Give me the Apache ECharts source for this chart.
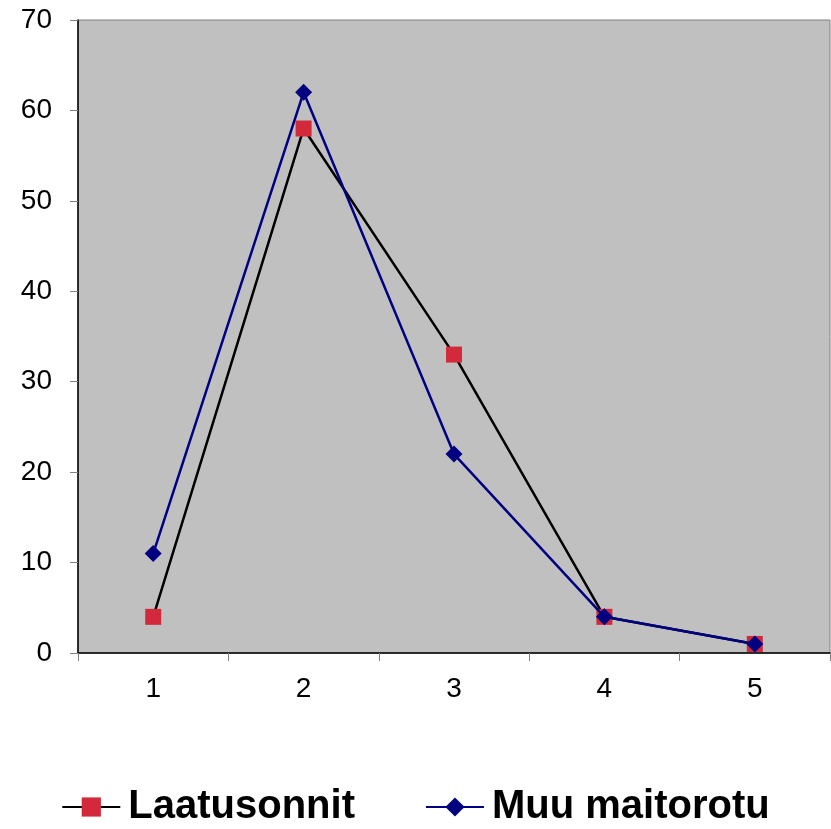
<!DOCTYPE html>
<html><head><meta charset="utf-8">
<script src="https://cdn.jsdelivr.net/npm/echarts@6/dist/echarts.min.js"></script>
<style>html,body{margin:0;padding:0;background:#fff}#c{width:831px;height:829px}</style>
</head><body><div id="c"></div>
<script>
const categories = ['1','2','3','4','5'];
const laatusonnit = [4, 58, 33, 4, 1];
const muuMaitorotu = [11, 62, 22, 4, 1];
const yTicks = {min:0, max:70, interval:10};

const chart = echarts.init(document.getElementById('c'), null, {renderer:'canvas'});
chart.setOption({
  animation:false,
  backgroundColor:'#fff',
  grid:{left:78, right:1, top:20, bottom:176, show:true, backgroundColor:'#c0c0c0', borderColor:'#808080', borderWidth:1},
  legend:{
    top:782, left:'center', itemGap:70, itemWidth:58, itemHeight:24,
    textStyle:{fontFamily:'Liberation Sans, Arial', fontWeight:'bold', fontSize:40, color:'#000', padding:[0,0,0,3]},
    data:['Laatusonnit','Muu maitorotu']
  },
  xAxis:{
    type:'category', data:categories, boundaryGap:true,
    axisLine:{lineStyle:{color:'#000', width:1.5}},
    axisTick:{show:true, inside:false, length:8, lineStyle:{color:'#808080'}},
    axisLabel:{fontFamily:'Liberation Sans, Arial', fontSize:28, color:'#000', margin:22},
    splitLine:{show:false}
  },
  yAxis:{
    type:'value', min:yTicks.min, max:yTicks.max, interval:yTicks.interval,
    axisLine:{show:true, lineStyle:{color:'#000', width:1.5}},
    axisTick:{show:true, length:8, lineStyle:{color:'#808080'}},
    axisLabel:{fontFamily:'Liberation Sans, Arial', fontSize:28, color:'#000', margin:26},
    splitLine:{show:false}
  },
  series:[
    {name:'Laatusonnit', type:'line', data:laatusonnit, symbol:'rect', symbolSize:16,
     lineStyle:{color:'#000', width:2.5}, itemStyle:{color:'#d22a3a'}, z:2},
    {name:'Muu maitorotu', type:'line', data:muuMaitorotu, symbol:'diamond', symbolSize:[17,17],
     lineStyle:{color:'#000080', width:2.5}, itemStyle:{color:'#000080'}, z:3}
  ]
});
</script></body></html>
